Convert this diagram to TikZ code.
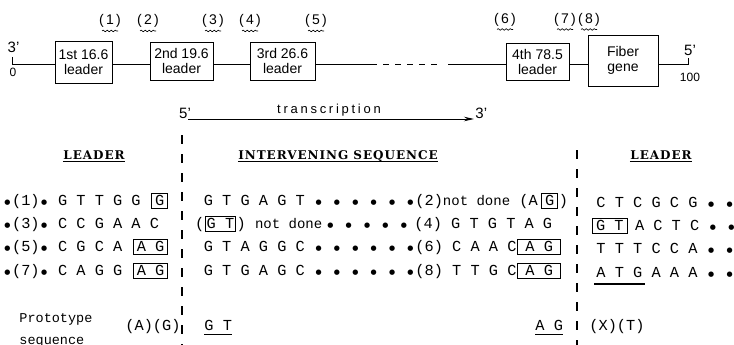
\documentclass[tikz,border=0pt]{standalone}
\usepackage{fontspec}
\setmainfont{Liberation Sans}
\newfontfamily\seqfont{Liberation Mono}
\newfontfamily\headfont{DejaVu Serif}[LetterSpace=8]
\newfontfamily\wordfont{Liberation Sans}[LetterSpace=21]
\newfontfamily\dotfont{DejaVu Sans}
\usetikzlibrary{positioning,arrows.meta,decorations.pathmorphing}
\newcommand\bdot{\makebox[0.6em]{\raisebox{0.02em}{\dotfont\fontsize{7pt}{7pt}\selectfont ●}}}
\newcommand\notdone{{\fontsize{14pt}{16pt}\selectfont not done}}

\begin{document}
\begin{tikzpicture}[x=1pt, y=-1pt, line width=0.9pt]
      \tikzset{leader/.style = {draw, align=center, inner sep=0pt,
          font = \fontsize{14pt}{15pt}\selectfont},
        sitelabel/.style = {inner sep=0pt,
          font = \fontsize{14pt}{16pt}\selectfont},
        endlabel/.style = {inner sep=0pt,
          font = \fontsize{15pt}{16pt}\selectfont},
        numlabel/.style = {inner sep=0pt,
          font = \fontsize{12pt}{14pt}\selectfont},
        wavy/.style = {line width=0.6pt, decorate,
          decoration = {snake, amplitude=0.8pt, segment length=4pt}},
        tarrow/.style = {line width=1pt, -{Stealth[length=10pt, width=4.5pt]}},
        heading/.style = {inner sep=0pt, anchor=base,
          font = \headfont\bfseries\fontsize{12pt}{14pt}\selectfont},
        uline/.style = {line width=1pt},
        divider/.style = {line width=1.3pt, dash pattern=on 9pt off 10pt},
        seqtext/.style = {inner sep=0pt, anchor=base west,
          font = \seqfont\fontsize{15.3pt}{18pt}\selectfont},
        seqbox/.style = {seqtext, draw, line width=1pt, inner xsep=3.5pt,
          inner ysep=2.5pt, text height=9.5pt, text depth=1pt},
        widebox/.style = {seqbox, inner xsep=8pt},
        proto/.style = {seqtext,
          font = \seqfont\fontsize{13.5pt}{16pt}\selectfont}}
      \useasboundingbox (0,0) rectangle (734,345);
      % gene map
      \node[endlabel] (p3l) at (13.5,47) {3'};
      \node[numlabel] (z0) at (13,72) {0};
      \node[endlabel] (p5r) at (690,50) {5'};
      \node[numlabel] (z100) at (690,77) {100};
      \node[leader, minimum width=57pt, minimum height=42pt] (b1) at (83.5,62) {1st 16.6\\leader};
      \node[leader, minimum width=63pt, minimum height=38pt] (b2) at (181.5,61) {2nd 19.6\\leader};
      \node[leader, minimum width=65pt, minimum height=38pt] (b3) at (282.5,61) {3rd 26.6\\leader};
      \node[leader, minimum width=63pt, minimum height=37pt] (b4) at (537.5,61.5) {4th 78.5\\leader};
      \node[leader, minimum width=70pt, minimum height=51pt] (b5) at (623,60.5) {Fiber\\gene};
      \coordinate (t0) at (12,64);
      \coordinate (t0top) at (12,57);
      \coordinate (t1) at (688,64);
      \coordinate (t1top) at (688,58);
      \coordinate (d1) at (371,64);
      \coordinate (d2) at (438,64);
      \coordinate (d3) at (448,64);
      \draw (t0top) -- (t0) -- (t0 -| b1.west);
      \draw (t0 -| b1.east) -- (t0 -| b2.west);
      \draw (t0 -| b2.east) -- (t0 -| b3.west);
      \draw (t0 -| b3.east) -- (d1);
      \draw[dash pattern=on 6pt off 6pt] (d1) -- (d2);
      \draw (d3) -- (t0 -| b4.west);
      \draw (t0 -| b4.east) -- (t0 -| b5.west);
      \draw (t0 -| b5.east) -- (t1) -- (t1top);
      \node[sitelabel] (s1) at (110,21) {(\,1\,)};
      \node[sitelabel] (s2) at (148,21) {(\,2\,)};
      \node[sitelabel] (s3) at (213,21) {(\,3\,)};
      \node[sitelabel] (s4) at (250,21) {(\,4\,)};
      \node[sitelabel] (s5) at (316,21) {(\,5\,)};
      \node[sitelabel] (s6) at (505,19.5) {(\,6\,)};
      \node[sitelabel] (s7) at (565,19.5) {(\,7\,)};
      \node[sitelabel] (s8) at (589,19.5) {(\,8\,)};
      \draw[wavy] ([xshift=-8pt,yshift=-3pt]s1.south) -- ([xshift=8pt,yshift=-3pt]s1.south);
      \draw[wavy] ([xshift=-8pt,yshift=-3pt]s2.south) -- ([xshift=8pt,yshift=-3pt]s2.south);
      \draw[wavy] ([xshift=-8pt,yshift=-3pt]s3.south) -- ([xshift=8pt,yshift=-3pt]s3.south);
      \draw[wavy] ([xshift=-8pt,yshift=-3pt]s4.south) -- ([xshift=8pt,yshift=-3pt]s4.south);
      \draw[wavy] ([xshift=-8pt,yshift=-3pt]s5.south) -- ([xshift=8pt,yshift=-3pt]s5.south);
      \draw[wavy] ([xshift=-8pt,yshift=-3pt]s6.south) -- ([xshift=8pt,yshift=-3pt]s6.south);
      \draw[wavy] ([xshift=-8pt,yshift=-3pt]s7.south) -- ([xshift=8pt,yshift=-3pt]s7.south);
      \draw[wavy] ([xshift=-8pt,yshift=-3pt]s8.south) -- ([xshift=8pt,yshift=-3pt]s8.south);
      % transcription
      \node[endlabel, anchor=base] (p5) at (185,118) {5'};
      \node[endlabel, anchor=base west] (p3) at (475,118) {3'};
      \node[inner sep=0pt, font=\wordfont\fontsize{13pt}{15pt}\selectfont] (tr) at (329,110) {transcription};
      \draw[tarrow] ([xshift=-3pt,yshift=-1pt]p5.base east) -- ([xshift=-1pt,yshift=-1pt]p3.base west);
      % sequences
      \node[heading] (hl) at (94,159) {LEADER};
      \node[heading] (hm) at (338,159) {INTERVENING SEQUENCE};
      \node[heading] (hr) at (661,159) {LEADER};
      \draw[uline] ([yshift=-2.5pt]hl.base west) -- ([yshift=-2.5pt]hl.base east);
      \draw[uline] ([yshift=-2.5pt]hm.base west) -- ([yshift=-2.5pt]hm.base east);
      \draw[uline] ([yshift=-2.5pt]hr.base west) -- ([yshift=-2.5pt]hr.base east);
      \coordinate (v1t) at (182,135);
      \coordinate (v1b) at (182,345);
      \coordinate (v2t) at (577,150);
      \coordinate (v2b) at (577,345);
      \draw[divider] (v1t) -- (v1b);
      \draw[divider] (v2t) -- (v2b);
      \node[seqtext] (l1) at (2.5,205) {\bdot(1)\bdot{} G T T G G};
      \node[seqbox, base right=10pt of l1] (l1g) {G};
      \node[seqtext] (l2) at (2.5,228) {\bdot(3)\bdot{} C C G A A C};
      \node[seqtext] (l3) at (2.5,251) {\bdot(5)\bdot{} C G C A};
      \node[seqbox, base right=10pt of l3] (l3ag) {A G};
      \node[seqtext] (l4) at (2.5,275) {\bdot(7)\bdot{} C A G G};
      \node[seqbox, base right=10pt of l4] (l4ag) {A G};
      \node[seqtext] (m1) at (203.4,205) {G T G A G T \bdot{} \bdot{} \bdot{} \bdot{} \bdot{} \bdot};
      \node[seqtext] (m1n) at (415,205) {(2)\notdone{} (A};
      \node[seqbox, base right=3pt of m1n] (m1g) {G};
      \node[seqtext, base right=0pt of m1g] (m1c) {)};
      \node[seqtext] (m2p) at (194.6,228) {(};
      \node[seqbox, inner xsep=1.5pt, base right=0pt of m2p] (m2gt) {G T};
      \node[seqtext, base right=0pt of m2gt] (m2n) {) \notdone};
      \node[seqtext] (m2d) at (325.4,228) {\bdot{} \bdot{} \bdot{} \bdot{} \bdot};
      \node[seqtext] (m2s) at (414,228) {(4) G T G T A G};
      \node[seqtext] (m3) at (203.4,251) {G T A G G C \bdot{} \bdot{} \bdot{} \bdot{} \bdot{} \bdot};
      \node[seqtext] (m3s) at (415,251) {(6) C A A C};
      \node[widebox, base right=0pt of m3s] (m3ag) {A G};
      \node[seqtext] (m4) at (203.4,275) {G T G A G C \bdot{} \bdot{} \bdot{} \bdot{} \bdot{} \bdot};
      \node[seqtext] (m4s) at (415,275) {(8) T T G C};
      \node[widebox, base right=0pt of m4s] (m4ag) {A G};
      \node[seqtext] (r1) at (596,207) {C T C G C G \bdot{} \bdot};
      \node[seqbox] (r2gt) at (592,230) {G T};
      \node[seqtext, base right=7pt of r2gt] (r2) {A C T C \bdot{} \bdot};
      \node[seqtext] (r3) at (596,253) {T T T C C A \bdot{} \bdot};
      \node[seqtext] (r4) at (596,277) {A T G A A A \bdot{} \bdot};
      \draw[line width=2.2pt] ([xshift=-2pt,yshift=-7pt]r4.base west) -- ++(51,0);
      % prototype
      \node[proto] (pr) at (19,322) {Prototype};
      \node[proto] (sq) at (19,344) {sequence};
      \node[seqtext] (pag) at (125,330) {(A)(G)};
      \node[seqtext] (pgt) at (204,330) {G T};
      \node[seqtext] (pag2) at (535,330) {A G};
      \node[seqtext] (pxt) at (589,330) {(X)(T)};
      \draw[uline] ([yshift=-4pt]pgt.base west) -- ([yshift=-4pt]pgt.base east);
      \draw[uline] ([yshift=-4pt]pag2.base west) -- ([yshift=-4pt]pag2.base east);
    \end{tikzpicture}
\end{document}
